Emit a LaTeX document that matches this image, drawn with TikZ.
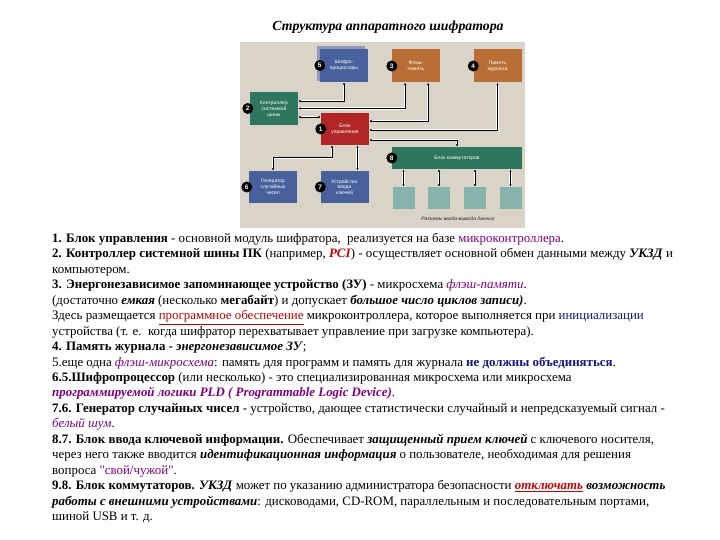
\documentclass[tikz,border=0pt]{standalone}
\usepackage{fontspec}
\setmainfont{Liberation Serif}
\newfontfamily\boxfont{Liberation Sans}
\usepackage{xcolor}
\usetikzlibrary{arrows.meta}
\definecolor{panelBg}{RGB}{218, 211, 200}
\definecolor{procBlue}{RGB}{72, 96, 156}
\definecolor{procShade}{RGB}{140, 152, 190}
\definecolor{memOrange}{RGB}{184, 110, 52}
\definecolor{busGreen}{RGB}{46, 118, 96}
\definecolor{ctrlRed}{RGB}{178, 38, 40}
\definecolor{portTeal}{RGB}{134, 180, 172}
\definecolor{linkPurple}{RGB}{128, 0, 128}
\definecolor{linkNavy}{RGB}{20, 20, 128}
\definecolor{markRed}{RGB}{200, 0, 0}

\begin{document}
\begin{tikzpicture}[
  x=1pt, y=-1pt,
  unit/.style={text=white, font=\boxfont\fontsize{5}{5.8}\selectfont, align=center,
    minimum width=48pt, minimum height=33pt, inner sep=1pt},
  badge/.style={circle, fill=black, text=white, font=\boxfont\bfseries\fontsize{6.5}{6.5}\selectfont,
    minimum size=11pt, inner sep=0pt},
  port/.style={fill=portTeal, minimum size=22pt, inner sep=0pt},
  link/.style={{Latex[length=2.5pt,width=2.5pt]}-{Latex[length=2.5pt,width=2.5pt]}, line width=0.8pt,
    preaction={draw=white, line width=2.4pt, arrows=-}},
  notes/.style={anchor=north west, align=left, inner sep=0pt,
    font=\fontsize{12.9}{15.45}\selectfont}
]
  \useasboundingbox (0,0) rectangle (720,540);
  \node[font=\bfseries\itshape\fontsize{13.8}{15}\selectfont] (title) at (388,27)
    {Структура аппаратного шифратора};

  % diagram panel
  \fill[panelBg] (240,42) rectangle (525,228);
  \fill[procShade] (317,46) rectangle (365,81);

  \node[unit, fill=procBlue] (proc) at (344,65.5) {Шифро-\\процессоры};
  \node[unit, fill=memOrange] (flash) at (416,66) {Флэш-\\память};
  \node[unit, fill=memOrange] (journal) at (497.5,66) {Память\\журнала};
  \node[unit, fill=busGreen] (bus) at (274,108.5) {Контроллер\\системной\\шины};
  \node[unit, fill=ctrlRed, minimum height=32pt] (ctrl) at (345,129) {Блок\\управления};
  \node[unit, fill=busGreen, minimum width=130pt, minimum height=22pt] (sw) at (457,158)
    {Блок коммутаторов};
  \node[unit, fill=procBlue, minimum height=32pt] (rng) at (273,187) {Генератор\\случайных\\чисел};
  \node[unit, fill=procBlue, minimum height=32pt] (key) at (344.5,187) {Устройство\\ввода\\ключей};
  \foreach \i/\px in {1/403.5, 2/439, 3/475, 4/510.5}
    \node[port] (p\i) at (\px,198) {};
  \node[font=\boxfont\itshape\fontsize{5}{6}\selectfont, text=black!85] (caption) at (458,219)
    {Разъемы ввода-вывода данных};

  % number badges
  \node[badge] (b1) at (ctrl.west) {1};
  \node[badge] (b2) at ([xshift=-2pt]bus.west) {2};
  \node[badge] (b3) at (flash.west) {3};
  \node[badge] (b4) at (journal.west) {4};
  \node[badge] (b5) at (proc.west) {5};
  \node[badge] (b6) at ([xshift=-2pt]rng.west) {6};
  \node[badge] (b7) at (key.west) {7};
  \node[badge] (b8) at (sw.west) {8};

  % links
  \draw[link] ([yshift=7.5pt]bus.east) -| (proc.south);
  \draw[link] (bus.east) -| ([xshift=-11pt]flash.south);
  \draw[link] ([yshift=-8.5pt]bus.east) -- ([yshift=-8.5pt]bus.east -| ctrl.west);
  \draw[link] ([yshift=8pt]ctrl.east) -| ([xshift=12pt]flash.south);
  \draw[link] ([yshift=-1pt]ctrl.east) -| (journal.south);
  \draw[link] ([yshift=-11pt]ctrl.east) -| (sw.north);
  \draw[link] (rng.north) -- ++(0,-13) -| ([xshift=-13pt]ctrl.south);
  \draw[link] ([xshift=13pt]key.north) -- ([xshift=13pt]key.north |- ctrl.south);
  \foreach \i in {1,...,4}
    \draw[link] (p\i.north) -- (p\i.north |- sw.south);

  % explanation
  \node[notes] (notes) at (52,233) {%
\textbf{1. Блок управления} - основной модуль шифратора,\ \ реализуется на базе \textcolor{linkPurple}{микроконтроллера}.\\
\textbf{2. Контроллер системной шины ПК} (например, \textcolor{markRed}{\textbf{\textit{PCI}}}) - осуществляет основной обмен данными между \textbf{\textit{УКЗД}} и\\
компьютером.\\
\textbf{3. Энергонезависимое запоминающее устройство (ЗУ)} - микросхема \textcolor{linkPurple}{\textit{флэш-памяти}}.\\
(достаточно \textbf{\textit{емкая}} (несколько \textbf{мегабайт}) и допускает \textbf{\textit{большое число циклов записи)}}.\\
Здесь размещается \textcolor{markRed}{\underline{программное обеспечение}} микроконтроллера, которое выполняется при \textcolor{linkNavy}{инициализации}\\
устройства (т. е.\ \ когда шифратор перехватывает управление при загрузке компьютера).\\
\textbf{4. Память журнала - \textit{энергонезависимое ЗУ}};\\
5.еще одна \textcolor{linkPurple}{\textit{флэш-микросхема}}: память для программ и память для журнала \textcolor{linkNavy}{\textbf{не должны объединяться}}.\\
\textbf{6.5.Шифропроцессор} (или несколько) - это специализированная микросхема или микросхема\\
\textcolor{linkPurple}{\textbf{\textit{программируемой логики PLD ( Programmable Logic Device)}}}.\\
\textbf{7.6. Генератор случайных чисел} - устройство, дающее статистически случайный и непредсказуемый сигнал -\\
\textcolor{linkPurple}{\textit{белый шум}}.\\
\textbf{8.7. Блок ввода ключевой информации.} Обеспечивает \textbf{\textit{защищенный прием ключей}} с ключевого носителя,\\
через него также вводится \textbf{\textit{идентификационная информация}} о пользователе, необходимая для решения\\
вопроса \textcolor{linkPurple}{\textquotedbl свой/чужой\textquotedbl}.\\
\textbf{9.8. Блок коммутаторов.} \textbf{\textit{УКЗД}} может по указанию администратора безопасности \textcolor{markRed}{\textbf{\textit{\underline{отключать}}}} \textbf{\textit{возможность}}\\
\textbf{\textit{работы с внешними устройствами}}: дисководами, CD-ROM, параллельным и последовательным портами,\\
шиной USB и т. д.};
\end{tikzpicture}
\end{document}
